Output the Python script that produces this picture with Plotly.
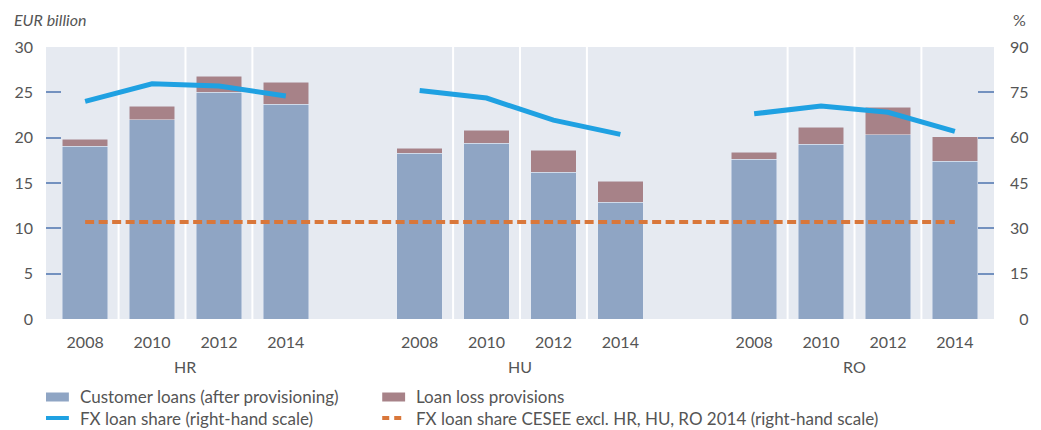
import plotly.graph_objects as go

# ---- data ----
countries = ["HR", "HU", "RO"]
years = ["2008", "2010", "2012", "2014"]
customer_loans = {
    "HR": [19.05, 22.0, 25.0, 23.7],
    "HU": [18.3, 19.4, 16.2, 12.9],
    "RO": [17.6, 19.3, 20.3, 17.4],
}
loan_loss_prov = {
    "HR": [0.8, 1.47, 1.77, 2.4],
    "HU": [0.55, 1.43, 2.43, 2.3],
    "RO": [0.8, 1.85, 3.07, 2.7],
}
fx_share = {
    "HR": [72.0, 77.8, 77.1, 73.8],
    "HU": [75.6, 73.1, 65.8, 61.1],
    "RO": [67.9, 70.5, 68.4, 62.1],
}
fx_share_cesee = 32.1

left_ticks = [0, 5, 10, 15, 20, 25, 30]
right_ticks = [0, 15, 30, 45, 60, 75, 90]

# ---- styles ----
C_BLUE = "#8FA5C4"
C_PROV = "#A78288"
C_FX = "#1FA1E2"
C_OR = "#D9773A"
C_BG = "#E6EAF1"
C_TICK = "#7391BF"
C_TXT = "#555555"
FONT = "Lato"
GAP = 5  # slots per group (4 years + 1 empty)

xs, cl, pv, tx = [], [], [], []
line_x, line_y = [], []
for g, c in enumerate(countries):
    for i, y in enumerate(years):
        p = g * GAP + i
        xs.append(p)
        cl.append(customer_loans[c][i])
        pv.append(loan_loss_prov[c][i])
        tx.append(y)
        line_x.append(p)
        line_y.append(fx_share[c][i])
    line_x.append(None)
    line_y.append(None)

fig = go.Figure()
fig.add_trace(go.Bar(x=xs, y=cl, marker_color=C_BLUE, width=0.68,
                     name="Customer loans (after provisioning)", showlegend=False))
fig.add_trace(go.Bar(x=xs, y=pv, marker_color=C_PROV, width=0.68,
                     name="Loan loss provisions", showlegend=False))
fig.add_trace(go.Scatter(x=line_x, y=line_y, yaxis="y2", mode="lines",
                         line=dict(color=C_FX, width=5), showlegend=False,
                         connectgaps=False))
fig.add_trace(go.Scatter(x=[xs[0], xs[-1]], y=[fx_share_cesee, fx_share_cesee],
                         yaxis="y2", mode="lines",
                         line=dict(color=C_OR, width=4, dash="9px,4.5px"),
                         showlegend=False))

shapes = []
# vertical separators between bars within each group
for g in range(len(countries)):
    for i in range(len(years) - 1):
        shapes.append(dict(type="line", xref="x", yref="paper",
                           x0=g * GAP + i + 0.5, x1=g * GAP + i + 0.5, y0=0, y1=1,
                           line=dict(color="white", width=2), layer="below"))

# custom legend
W, H = 953.0, 272.0
def px(x):
    return (x - 46) / W
def py(y):
    return (319 - y) / H

legend_items = [
    ("bar", C_BLUE, "Customer loans (after provisioning)", 46, 397),
    ("bar", C_PROV, "Loan loss provisions", 384, 397),
    ("line", C_FX, "FX loan share (right-hand scale)", 46, 418),
    ("dash", C_OR, "FX loan share CESEE excl. HR, HU, RO 2014 (right-hand scale)", 384, 418),
]
annotations = []
for kind, col, text, x0, yc in legend_items:
    if kind == "bar":
        shapes.append(dict(type="rect", xref="paper", yref="paper",
                           x0=px(x0), x1=px(x0 + 23), y0=py(yc + 4.5), y1=py(yc - 4.5),
                           fillcolor=col, line=dict(width=0)))
    else:
        shapes.append(dict(type="line", xref="paper", yref="paper",
                           x0=px(x0), x1=px(x0 + 23), y0=py(yc), y1=py(yc),
                           line=dict(color=col, width=4,
                                     dash="solid" if kind == "line" else "7px,5px")))
    annotations.append(dict(text=text, xref="paper", yref="paper", x=px(x0 + 32), y=py(yc),
                            xanchor="left", yanchor="middle", showarrow=False,
                            font=dict(family=FONT, size=17, color=C_TXT)))

for g, c in enumerate(countries):
    annotations.append(dict(text=c, xref="x", yref="paper", x=g * GAP + 1.5, y=py(366),
                            xanchor="center", yanchor="middle", showarrow=False,
                            font=dict(family=FONT, size=16, color=C_TXT)))

annotations.append(dict(text="<i>EUR billion</i>", xref="paper", yref="paper", x=px(12), y=py(20),
                        xanchor="left", yanchor="middle", showarrow=False,
                        font=dict(family=FONT, size=16, color=C_TXT)))
annotations.append(dict(text="%", xref="paper", yref="paper", x=px(1033), y=py(20),
                        xanchor="right", yanchor="middle", showarrow=False,
                        font=dict(family=FONT, size=16, color=C_TXT)))

right_text = [("\u2007" + str(v)) if v < 10 else str(v) for v in right_ticks]

fig.update_layout(
    width=1041, height=430,
    margin=dict(l=46, r=42, t=47, b=111),
    barmode="stack",
    plot_bgcolor=C_BG, paper_bgcolor="white",
    font=dict(family=FONT, size=16, color=C_TXT),
    xaxis=dict(range=[-0.585, xs[-1] + 0.585], tickmode="array", tickvals=xs, ticktext=tx,
               showgrid=False, zeroline=False, showline=False, ticks="",
               ticklabelstandoff=12, tickfont=dict(size=16, color=C_TXT)),
    yaxis=dict(range=[0, 30], tickmode="array", tickvals=left_ticks,
               showgrid=False, zeroline=False, showline=False,
               ticks="inside", ticklen=15, tickwidth=2, tickcolor=C_TICK,
               ticklabelstandoff=12, tickfont=dict(size=16, color=C_TXT)),
    yaxis2=dict(range=[0, 90], overlaying="y", side="right", tickmode="array",
                tickvals=right_ticks, ticktext=right_text,
                showgrid=False, zeroline=False, showline=False,
                ticks="inside", ticklen=16, tickwidth=2, tickcolor=C_TICK,
                ticklabelstandoff=15, tickfont=dict(size=16, color=C_TXT)),
    shapes=shapes, annotations=annotations, showlegend=False,
)

fig.write_html("out.html", config={"displayModeBar": False},
               post_script="document.body.style.margin='0';document.body.style.padding='0';")
